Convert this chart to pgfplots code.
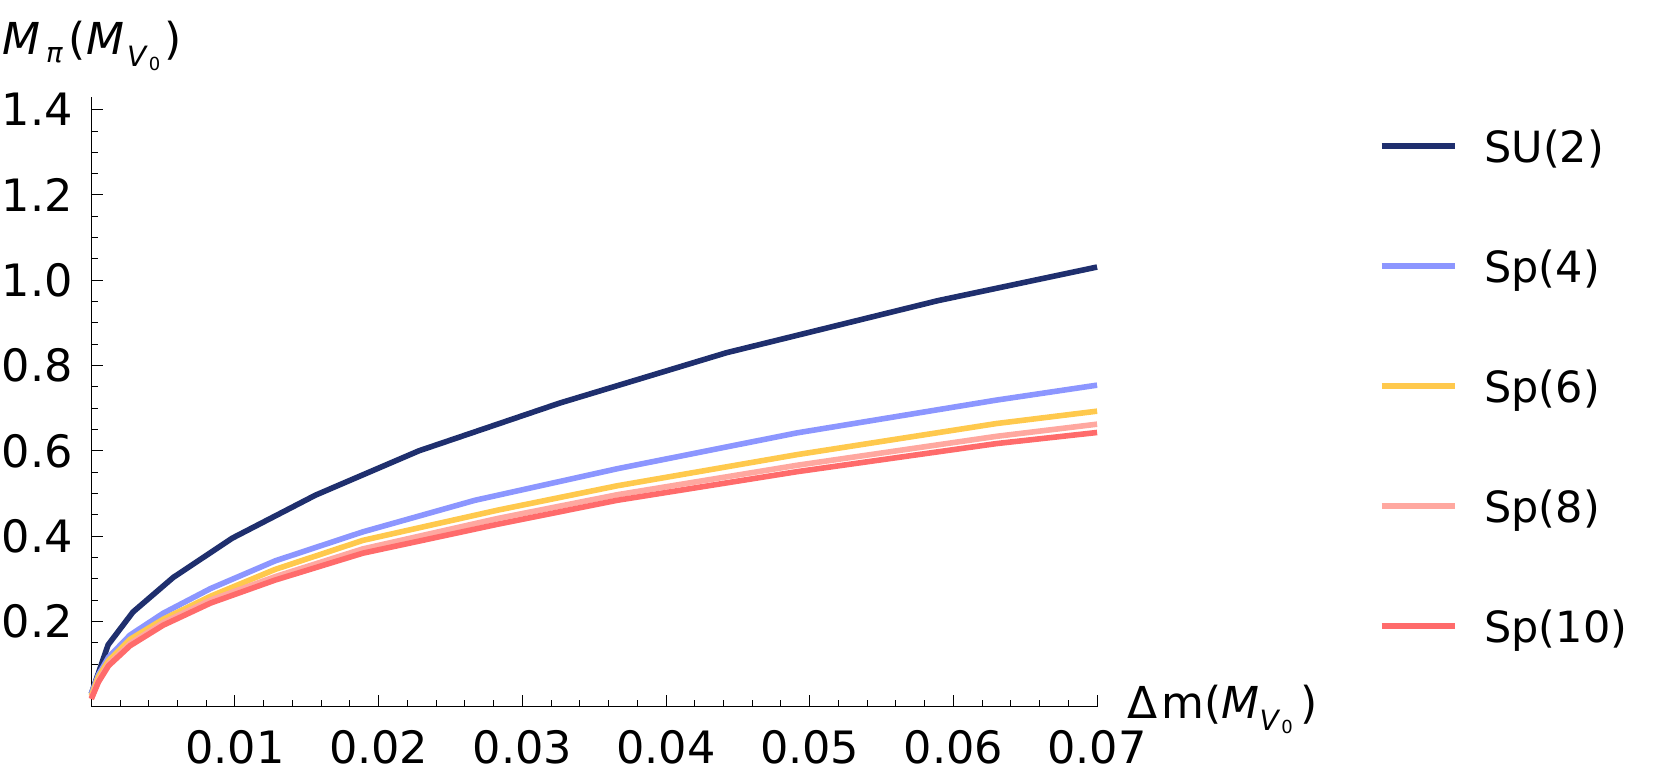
\documentclass[border=0pt]{standalone}
\usepackage{fontspec}
\setmainfont{DejaVu Sans}
\usepackage{pgfplots}
\pgfplotsset{compat=1.18}
\definecolor{cSUtwo}{HTML}{1F2F6E}
\definecolor{cSpfour}{HTML}{8C96FF}
\definecolor{cSpsix}{HTML}{FFC94D}
\definecolor{cSpeight}{HTML}{FFA8A0}
\definecolor{cSpten}{HTML}{FF6B6B}
\newcommand{\tickfont}{\fontsize{22.3}{25}\selectfont}
\newcommand{\legfont}{\fontsize{21.5}{25}\selectfont}
\newcommand{\labfont}{\fontsize{22}{25}\selectfont}
% subscript V_0 as Mathematica sets it
\newcommand{\subVzero}{\raisebox{-6pt}{\fontsize{14}{14}\selectfont\textit{V}\kern0.5pt\raisebox{-1.8pt}{\fontsize{9}{9}\selectfont 0}}}

\begin{document}
\begin{tikzpicture}
\useasboundingbox (-45.65pt,-36.65pt) rectangle (784.85pt,353.35pt);
\begin{axis}[
  scale only axis,
  width=502.9pt,
  height=304.9pt,
  xmin=0, xmax=0.07,
  ymin=0, ymax=1.43,
  clip=false,
  axis lines=left,
  axis line style={-, line width=0.7pt},
  tick align=inside,
  tick style={black, line width=0.5pt},
  major tick length=6pt,
  minor tick length=3.5pt,
  xtick={0.01,0.02,0.03,0.04,0.05,0.06,0.07},
  minor xtick={0.002,0.004,0.006,0.008,0.012,0.014,0.016,0.018,0.022,0.024,0.026,0.028,
               0.032,0.034,0.036,0.038,0.042,0.044,0.046,0.048,0.052,0.054,0.056,0.058,
               0.062,0.064,0.066,0.068},
  ytick={0.2,0.4,0.6,0.8,1.0,1.2,1.4},
  minor ytick={0.05,0.1,0.15,0.25,0.3,0.35,0.45,0.5,0.55,0.65,0.7,0.75,0.85,0.9,0.95,
               1.05,1.1,1.15,1.25,1.3,1.35},
  scaled ticks=false,
  /pgf/number format/assume math mode=true,
  xticklabel style={font=\tickfont, inner sep=0pt, yshift=-11.5pt,
    /pgf/number format/fixed, /pgf/number format/fixed zerofill, /pgf/number format/precision=2},
  yticklabel style={font=\tickfont, inner sep=0pt, xshift=-9pt,
    /pgf/number format/fixed, /pgf/number format/fixed zerofill, /pgf/number format/precision=1},
  xlabel={Δ\kern2pt m(\textit{M}\subVzero\kern4pt)},
  xlabel style={font=\labfont, at={(axis description cs:1,0)}, anchor=base west, inner sep=0pt,
    xshift=15pt, yshift=-5.8pt},
  ylabel={\textit{M}\kern3pt\raisebox{-4pt}{\fontsize{13.7}{14}\selectfont\textit{π}}\kern3pt(\textit{M}\kern1.5pt\subVzero\kern2pt)},
  ylabel style={font=\labfont, rotate=-90, at={(axis description cs:0,1)}, anchor=base west,
    inner sep=0pt, xshift=-44.8pt, yshift=21pt},
  legend cell align=left,
  legend image code/.code={\draw[#1, line width=3pt] (0pt,0pt) -- (36.5pt,0pt); \path (50pt,0pt);},
  legend style={at={(1.2794,0.5252)}, anchor=west, draw=none, fill=none, inner sep=0pt,
    row sep=36pt, font=\legfont, nodes={inner sep=0pt, text height=20pt, text depth=4pt}},
  every axis plot/.append style={line width=2.8pt, line join=round},
]
% SU(2)
\addplot[cSUtwo] coordinates {
 (0,0.030) (0.00117,0.145) (0.0029,0.222) (0.0057,0.303) (0.0098,0.395)
 (0.0156,0.496) (0.0228,0.600) (0.0326,0.712) (0.0442,0.830) (0.0589,0.952) (0.07,1.031)};
% Sp(4)
\addplot[cSpfour] coordinates {
 (0,0.030) (0.0005,0.075) (0.0012,0.116) (0.0027,0.168) (0.0050,0.219) (0.0083,0.277)
 (0.0128,0.342) (0.0189,0.410) (0.0267,0.484) (0.0366,0.558) (0.0491,0.642) (0.063,0.719) (0.07,0.754)};
% Sp(6)
\addplot[cSpsix] coordinates {
 (0,0.025) (0.0005,0.070) (0.0012,0.108) (0.0027,0.158) (0.0050,0.205) (0.0083,0.259)
 (0.0128,0.322) (0.0189,0.390) (0.0283,0.461) (0.0366,0.518) (0.0491,0.591) (0.063,0.664) (0.07,0.693)};
% Sp(8)
\addplot[cSpeight] coordinates {
 (0,0.020) (0.0005,0.062) (0.0012,0.100) (0.0027,0.148) (0.0050,0.197) (0.0083,0.250)
 (0.0128,0.305) (0.0189,0.370) (0.0283,0.4415) (0.0366,0.497) (0.0491,0.566) (0.063,0.634) (0.07,0.6625)};
% Sp(10)
\addplot[cSpten] coordinates {
 (0,0.018) (0.0005,0.058) (0.0012,0.096) (0.0027,0.143) (0.0050,0.191) (0.0083,0.243)
 (0.0128,0.297) (0.0189,0.360) (0.0283,0.428) (0.0366,0.484) (0.0491,0.551) (0.063,0.617) (0.07,0.643)};
\legend{SU(2),Sp(4),Sp(6),Sp(8),Sp(10)}
\end{axis}
\end{tikzpicture}
\end{document}
